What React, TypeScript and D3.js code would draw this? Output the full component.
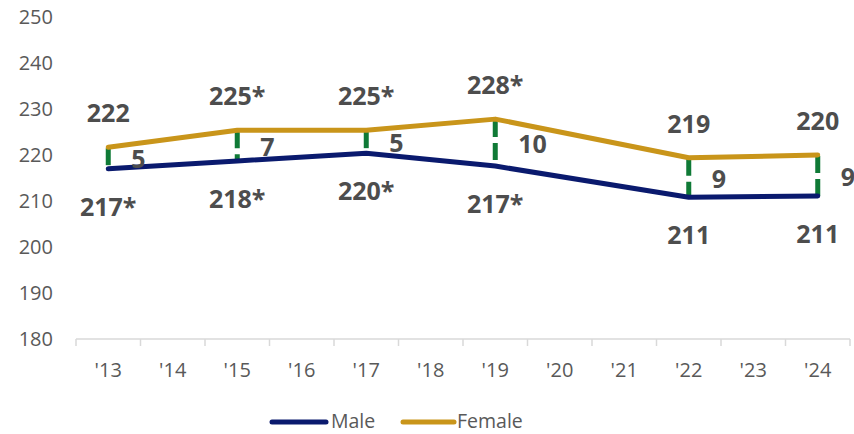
import React from "react";
import * as d3 from "d3";

const categories = ["'13", "'14", "'15", "'16", "'17", "'18", "'19", "'20", "'21", "'22", "'23", "'24"];
const dataYears = ["'13", "'15", "'17", "'19", "'22", "'24"];
const femaleValues = [221.7, 225.4, 225.4, 227.8, 219.4, 220.0];
const maleValues = [217.0, 218.7, 220.4, 217.6, 210.8, 211.1];
const femaleLabels = ["222", "225*", "225*", "228*", "219", "220"];
const maleLabels = ["217*", "218*", "220*", "217*", "211", "211"];
const gapLabels = ["5", "7", "5", "10", "9", "9"];
const yTicks = [180, 190, 200, 210, 220, 230, 240, 250];

const W = 854;
const H = 434;
const FONT = "'Open Sans', 'Liberation Sans', sans-serif";

export default function App() {
  const x = d3.scaleBand<string>().domain(categories).range([76, 850]);
  const y = d3.scaleLinear().domain([180, 250]).range([339, 17]);
  const cx = (c: string) => (x(c) as number) + x.bandwidth() / 2;

  const lineGen = d3
    .line<number>()
    .x((_, i) => cx(dataYears[i]))
    .y((v) => y(v));

  const tickEdges = categories.map((c) => x(c) as number).concat([x.range()[1]]);

  return (
    <svg width={W} height={H} style={{ position: "absolute", left: 0, top: 0, background: "#fff" }}>
      {/* y tick labels */}
      {yTicks.map((t) => (
        <text key={t} x={53} y={y(t) + 7} textAnchor="end" fontFamily={FONT} fontSize={20} fill="#595959">
          {t}
        </text>
      ))}
      {/* x axis */}
      <line x1={76} x2={850} y1={339} y2={339} stroke="#D9D9D9" strokeWidth={1.5} />
      {tickEdges.map((e, i) => (
        <line key={i} x1={e} x2={e} y1={339} y2={346} stroke="#D9D9D9" strokeWidth={1.5} />
      ))}
      {categories.map((c) => (
        <text key={c} x={cx(c)} y={377} textAnchor="middle" fontFamily={FONT} fontSize={20} fill="#595959">
          {c}
        </text>
      ))}
      {/* gap dashes */}
      {dataYears.map((c, i) => (
        <line
          key={"g" + c}
          x1={cx(c)}
          x2={cx(c)}
          y1={y(femaleValues[i]) + 1}
          y2={y(maleValues[i])}
          stroke="#0F7A36"
          strokeWidth={5}
          strokeDasharray="17 6"
        />
      ))}
      {/* lines */}
      <path d={lineGen(maleValues) || ""} fill="none" stroke="#0A1A6E" strokeWidth={5} strokeLinecap="round" strokeLinejoin="round" />
      <path d={lineGen(femaleValues) || ""} fill="none" stroke="#C9951A" strokeWidth={5} strokeLinecap="round" strokeLinejoin="round" />
      {/* labels */}
      {dataYears.map((c, i) => (
        <g key={"l" + c} fontFamily={FONT} fontSize={25} fontWeight="bold" fill="#4D4D4D">
          <text x={cx(c)} y={y(femaleValues[i]) - 34 + 9} textAnchor="middle">
            {femaleLabels[i]}
          </text>
          <text x={cx(c)} y={y(maleValues[i]) + 38 + 9} textAnchor="middle">
            {maleLabels[i]}
          </text>
          <text x={cx(c) + 23} y={(y(femaleValues[i]) + y(maleValues[i])) / 2 + 1.5 + 9} textAnchor="start">
            {gapLabels[i]}
          </text>
        </g>
      ))}
      {/* legend */}
      <line x1={272} x2={326} y1={422} y2={422} stroke="#0A1A6E" strokeWidth={5} strokeLinecap="round" />
      <text x={331} y={428} fontFamily={FONT} fontSize={19.5} fill="#595959">Male</text>
      <line x1={403} x2={454} y1={422} y2={422} stroke="#C9951A" strokeWidth={5} strokeLinecap="round" />
      <text x={457} y={428} fontFamily={FONT} fontSize={19.5} fill="#595959">Female</text>
    </svg>
  );
}
